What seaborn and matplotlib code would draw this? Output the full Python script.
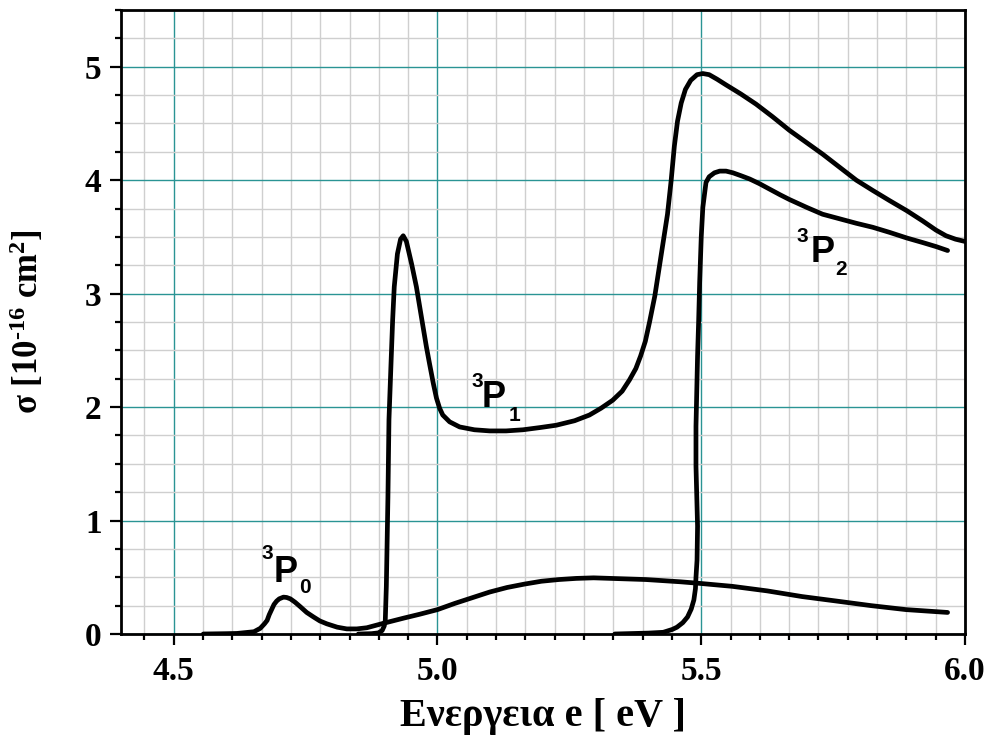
import matplotlib
matplotlib.use("Agg")
import matplotlib.pyplot as plt
from matplotlib.ticker import MultipleLocator, FormatStrFormatter
import seaborn as sns
import pandas as pd

# ---- data ----
p0_x = [4.556, 4.60, 4.62, 4.652, 4.664, 4.672, 4.677, 4.681, 4.685, 4.690, 4.695, 4.700,
        4.708, 4.714, 4.721, 4.730, 4.740, 4.752, 4.765, 4.777, 4.790, 4.810, 4.828, 4.847,
        4.866, 4.898, 4.936, 4.967, 5.0, 5.033, 5.066, 5.099, 5.132, 5.165, 5.197, 5.230,
        5.263, 5.296, 5.329, 5.395, 5.461, 5.5, 5.559, 5.625, 5.691, 5.757, 5.822, 5.888, 5.967]
p0_y = [0.0, 0.003, 0.005, 0.02, 0.05, 0.09, 0.12, 0.17, 0.21, 0.26, 0.29, 0.31,
        0.325, 0.322, 0.31, 0.28, 0.24, 0.19, 0.15, 0.115, 0.09, 0.06, 0.045, 0.045,
        0.055, 0.095, 0.14, 0.175, 0.215, 0.27, 0.32, 0.37, 0.41, 0.44, 0.465, 0.48,
        0.49, 0.495, 0.49, 0.48, 0.46, 0.445, 0.42, 0.38, 0.33, 0.29, 0.25, 0.215, 0.19]

p1_x = [4.85, 4.875, 4.888, 4.895, 4.899, 4.901, 4.903, 4.906, 4.908, 4.912, 4.915, 4.918,
        4.924, 4.930, 4.935, 4.941, 4.951, 4.960, 4.970, 4.979, 4.985, 4.992, 4.998, 5.004,
        5.010, 5.023, 5.042, 5.070, 5.099, 5.130, 5.162, 5.195, 5.225, 5.260, 5.288, 5.310,
        5.332, 5.350, 5.364, 5.376, 5.385, 5.394, 5.402, 5.412, 5.421, 5.431, 5.436, 5.443,
        5.449, 5.455, 5.462, 5.470, 5.480, 5.492, 5.503, 5.515, 5.530, 5.547, 5.575, 5.604,
        5.635, 5.667, 5.700, 5.730, 5.762, 5.794, 5.825, 5.857, 5.890, 5.920, 5.945, 5.964,
        5.982, 6.0]
p1_y = [0.0, 0.003, 0.01, 0.03, 0.07, 0.12, 0.42, 1.2, 1.89, 2.4, 2.77, 3.06,
        3.35, 3.48, 3.51, 3.46, 3.26, 3.06, 2.78, 2.53, 2.38, 2.21, 2.08, 1.99,
        1.93, 1.87, 1.825, 1.80, 1.79, 1.79, 1.80, 1.82, 1.84, 1.88, 1.93, 1.99,
        2.06, 2.14, 2.24, 2.34, 2.45, 2.58, 2.75, 2.98, 3.25, 3.55, 3.70, 4.00,
        4.30, 4.52, 4.68, 4.80, 4.88, 4.93, 4.94, 4.93, 4.89, 4.84, 4.76, 4.67,
        4.56, 4.44, 4.33, 4.23, 4.115, 4.00, 3.91, 3.82, 3.73, 3.64, 3.56, 3.51,
        3.48, 3.46]

p2_x = [5.336, 5.40, 5.428, 5.445, 5.454, 5.465, 5.474, 5.481, 5.486, 5.489, 5.490, 5.492,
        5.493, 5.490, 5.490, 5.493, 5.495, 5.497, 5.500, 5.503, 5.509, 5.515, 5.525, 5.535,
        5.547, 5.560, 5.575, 5.592, 5.610, 5.630, 5.650, 5.667, 5.700, 5.730, 5.762, 5.794,
        5.825, 5.857, 5.890, 5.920, 5.945, 5.967]
p2_y = [0.0, 0.008, 0.015, 0.04, 0.06, 0.10, 0.15, 0.22, 0.30, 0.40, 0.50, 0.65,
        0.95, 1.48, 1.83, 2.45, 2.75, 3.10, 3.50, 3.76, 3.98, 4.03, 4.065, 4.08,
        4.08, 4.065, 4.04, 4.01, 3.97, 3.92, 3.87, 3.83, 3.76, 3.70, 3.66, 3.62,
        3.585, 3.54, 3.49, 3.45, 3.415, 3.38]

x_label = "Ενεργεια e [ eV ]"
y_label = "σ [10$^{\u201016}$ cm$^{2}$]"

# ---- style ----
sns.set_theme(style="white")
plt.rcParams["font.family"] = ["Liberation Serif", "DejaVu Serif"]
plt.rcParams["mathtext.fontset"] = "custom"
plt.rcParams["mathtext.rm"] = "Liberation Serif:bold"
plt.rcParams["mathtext.bf"] = "Liberation Serif:bold"
plt.rcParams["mathtext.default"] = "rm"
for key in ["text.color", "axes.labelcolor", "xtick.color", "ytick.color"]:
    plt.rcParams[key] = "black"

fig = plt.figure(figsize=(9.86, 7.35), dpi=100)
ax = fig.add_axes([121 / 986, 1 - 634 / 735, (965 - 121) / 986, (634 - 10) / 735])

for xs, ys in [(p0_x, p0_y), (p1_x, p1_y), (p2_x, p2_y)]:
    df = pd.DataFrame({"e": xs, "s": ys})
    sns.lineplot(data=df, x="e", y="s", sort=False, estimator=None, ax=ax,
                 color="black", lw=3.4, solid_joinstyle="round", solid_capstyle="round")

ax.set_xlim(4.4, 6.0)
ax.set_ylim(0, 5.5)
ax.xaxis.set_major_locator(MultipleLocator(0.5))
ax.xaxis.set_minor_locator(MultipleLocator(1 / 18))
ax.yaxis.set_major_locator(MultipleLocator(1))
ax.yaxis.set_minor_locator(MultipleLocator(0.25))
ax.xaxis.set_major_formatter(FormatStrFormatter("%.1f"))
ax.yaxis.set_major_formatter(FormatStrFormatter("%d"))

ax.set_axisbelow(True)
ax.grid(which="minor", color="#cfcfcf", lw=1.0)
ax.grid(which="major", color="#2a9494", lw=1.0)

for s in ax.spines.values():
    s.set_visible(True)
    s.set_color("black")
    s.set_linewidth(2.0)

ax.tick_params(axis="both", which="major", direction="out", length=8, width=1.6,
               color="black", labelcolor="black", bottom=True, left=True, top=False, right=False)
ax.tick_params(axis="both", which="minor", direction="out", length=4.5, width=1.6,
               color="black", bottom=True, left=True, top=False, right=False)
ax.tick_params(axis="x", which="major", labelsize=24, pad=8)
ax.tick_params(axis="y", which="major", labelsize=24, pad=6)
for lab in ax.get_xticklabels() + ax.get_yticklabels():
    lab.set_fontweight("bold")

ax.set_xlabel(x_label, fontsize=29, fontweight="bold", labelpad=8, color="black")
ax.set_ylabel(y_label, fontsize=25, fontweight="bold", labelpad=28, color="black")

# ---- term labels ----
sans = ["Liberation Sans", "DejaVu Sans"]
def term(x3, y3, xp, yp, xs, ys, sub):
    kw = dict(fontweight="bold", family=sans, ha="left", va="baseline", color="black")
    ax.text(x3, y3, "3", fontsize=15, **kw)
    ax.text(xp, yp, "P", fontsize=26, **kw)
    ax.text(xs, ys, sub, fontsize=15, **kw)

term(4.667, 0.66, 4.690, 0.458, 4.737, 0.36, "0")
term(5.065, 2.174, 5.084, 1.998, 5.135, 1.875, "1")
term(5.680, 3.451, 5.707, 3.275, 5.754, 3.160, "2")

fig.savefig("out.png", dpi=100)
